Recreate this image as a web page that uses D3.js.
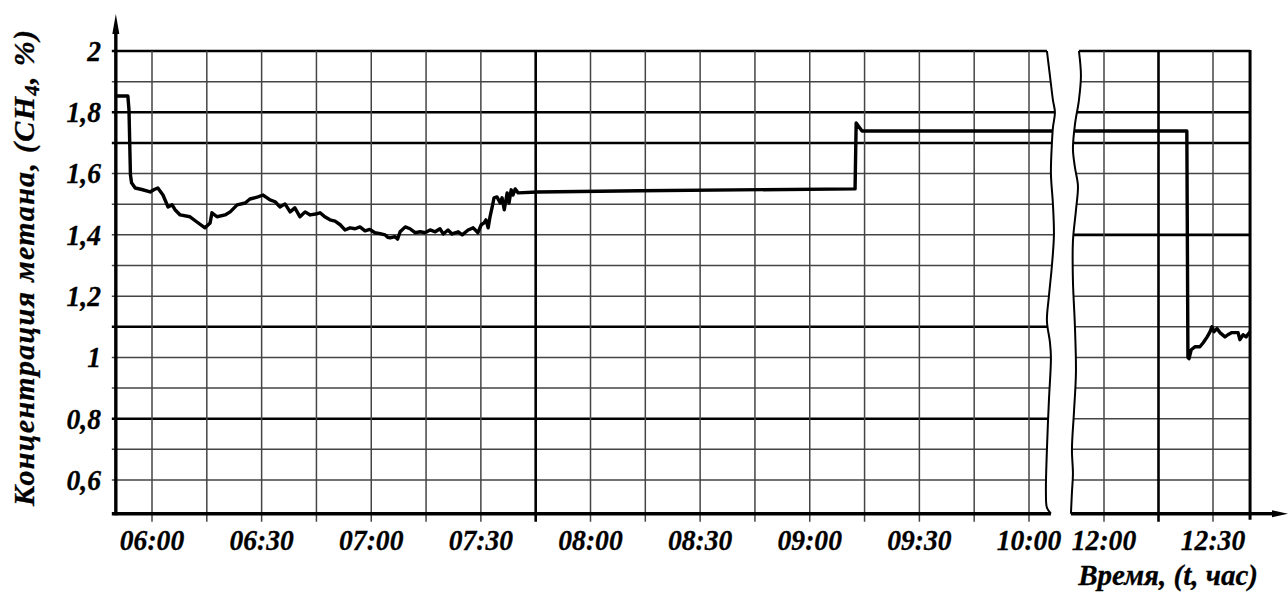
<!DOCTYPE html>
<meta charset="utf-8">
<style>
  body { margin: 0; background: #fff; }
  svg { display: block; background: #fff; }
  .lbl { font: italic bold 30px "Liberation Serif", "Times New Roman", serif; fill: #000; stroke: #000; stroke-width: 0.3; }
  .grid { stroke: #444; stroke-width: 1.5; }
  .grid.bold { stroke: #000; stroke-width: 2.6; }
  .series { fill: none; stroke: #000; stroke-width: 3.4; stroke-linejoin: round; }
  .axis { stroke: #000; stroke-width: 3.4; }
  .brk { fill: none; stroke: #000; stroke-width: 2; }
</style>
<body></body>
<script src="https://cdn.jsdelivr.net/npm/d3@7"></script>
<script>
  const W = 1288, H = 594;

  // value axis (CH4, %)
  const yTicks = [2, 1.8, 1.6, 1.4, 1.2, 1, 0.8, 0.6];
  const yGrid = [2, 1.9, 1.8, 1.7, 1.6, 1.5, 1.4, 1.3, 1.2, 1.1, 1, 0.9, 0.8, 0.7, 0.6];
  const yBoldLeft = [2, 1.8, 1.7, 1.1, 0.8];
  const yBoldRight = [2, 1.8, 1.7, 1.4];
  const yMin = 0.49;

  // time axis, minutes after midnight; two panels with a break between them
  const leftRange = [350.1, 606];      // 05:50 .. 10:06
  const rightRange = [710.9, 760.2];   // 11:51 .. 12:40
  const leftGrid = [360, 375, 390, 405, 420, 435, 450, 465, 480, 495, 510, 525, 540, 555, 570, 585, 600];
  const leftBold = [465];
  const leftLabels = ['06:00', '06:30', '07:00', '07:30', '08:00', '08:30', '09:00', '09:30', '10:00'];
  const rightGrid = [720, 735, 750];
  const rightBold = [735];
  const rightLabels = ['12:00', '12:30'];

  // [time (min), CH4 %]
  const leftSeries = [
    [350.1,1.853],[353.4,1.853],[353.7,1.808],[354.1,1.596],[354.4,1.570],[355.4,1.553],[357.2,1.548],[359.5,1.540],
    [360.6,1.548],[361.6,1.553],[363.0,1.530],[364.4,1.491],[365.5,1.498],[366.3,1.482],[367.7,1.465],[370.4,1.459],
    [372.3,1.442],[374.5,1.423],[375.9,1.439],[376.4,1.472],[377.8,1.459],[380.0,1.465],[381.4,1.475],
    [383.3,1.498],[385.5,1.504],[386.8,1.517],[389.0,1.524],[390.4,1.530],[392.3,1.514],[393.7,1.508],
    [395.0,1.491],[396.4,1.501],[397.8,1.475],[399.1,1.488],[400.5,1.459],[401.9,1.475],[403.3,1.465],
    [405.2,1.469],[406.0,1.472],[407.4,1.458],[408.7,1.449],[410.1,1.445],[411.5,1.433],[412.8,1.416],[414.2,1.423],[415.6,1.420],
    [416.9,1.426],[418.3,1.413],[419.6,1.418],[421.0,1.407],[422.4,1.404],[423.8,1.400],[424.5,1.392],[425.2,1.390],[426.5,1.394],[427.2,1.386],[427.9,1.410],
    [429.3,1.426],[430.6,1.420],[432.0,1.407],[433.4,1.410],[434.7,1.407],[436.1,1.416],[437.5,1.410],
    [438.8,1.420],[439.7,1.403],[441.0,1.416],[442.1,1.403],[443.8,1.410],[444.9,1.400],[446.5,1.416],
    [447.9,1.423],[449.2,1.407],[450.1,1.433],[450.9,1.439],[451.4,1.449],[452.0,1.423],[452.5,1.459],
    [453.1,1.491],[453.6,1.521],[454.4,1.524],[455.3,1.504],[455.8,1.521],[456.4,1.482],[457.2,1.537],
    [457.7,1.504],[458.3,1.547],[458.8,1.530],[459.4,1.550],[460.2,1.537],[465.4,1.540],[493.6,1.544],
    [552.4,1.550],[552.7,1.765],[554.3,1.739],[612,1.739]
  ];
  const rightSeries = [
    [705,1.739],[742.8,1.739],[743.1,1.0],[743.4,0.996],[744.0,1.025],[745.1,1.035],[746.4,1.035],
    [747.3,1.048],[748.4,1.067],[749.2,1.084],[749.7,1.100],[750.3,1.084],[751.1,1.094],[751.9,1.081],
    [753.3,1.067],[754.1,1.074],[755.2,1.081],[756.9,1.081],[757.4,1.058],[758.3,1.074],[759.1,1.067],
    [760.2,1.084]
  ];

  // break outlines: [value, horizontal wobble in px]
  const leftBreak = [[2,-4],[1.92,-1],[1.84,2],[1.8,4],[1.75,2],[1.7,1],[1.6,0],[1.5,2],[1.4,3],[1.3,1],
    [1.2,-2],[1.12,-4],[1.05,-1],[1,0],[0.86,-2],[0.7,-4],[0.56,-5],[0.51,-4],[0.49,0]];
  const rightBreak = [[2,8],[1.92,10],[1.84,8],[1.76,4],[1.68,2],[1.62,4],[1.56,7],[1.48,5],[1.38,2],[1.25,2],
    [1.1,4],[0.95,5],[0.82,3],[0.7,1],[0.62,2],[0.56,1],[0.49,0]];

  const y = d3.scaleLinear().domain([0.6, 2]).range([480, 51]);
  const xL = d3.scaleLinear().domain([360, 600]).range([152, 1029]);
  const xR = d3.scaleLinear().domain([720, 750]).range([1104, 1213]);

  const fmt = d => String(d).replace('.', ',');
  const toMin = s => +s.slice(0, 2) * 60 + +s.slice(3);
  const squeeze = 0.92;

  const svg = d3.select('body').append('svg').attr('width', W).attr('height', H);
  const defs = svg.append('defs');

  const x0 = xL(leftRange[0]);
  const lEdge = xL(leftRange[1]);
  const rEdge = xR(rightRange[0]);
  const x1 = xR(rightRange[1]);

  const brkLine = (edge) => d3.line().x(d => edge + d[1]).y(d => y(d[0])).curve(d3.curveCatmullRom);
  const lPts = leftBreak.map(d => [lEdge + d[1], y(d[0])]);
  const rPts = rightBreak.map(d => [rEdge + d[1], y(d[0])]);

  const curveStr = brkLine(lEdge)(leftBreak);
  const rCurveStr = brkLine(rEdge)(rightBreak);

  defs.append('clipPath').attr('id', 'clipL').append('path')
    .attr('d', `M0,0L${lPts[0][0]},0L${lPts[0][0]},${lPts[0][1]}` + curveStr.replace(/^M[^CL]*/, 'L' + lPts[0].join(',')) +
      `L${lPts[lPts.length - 1][0]},${H}L0,${H}Z`);
  defs.append('clipPath').attr('id', 'clipR').append('path')
    .attr('d', `M${W},0L${rPts[0][0]},0L${rPts[0][0]},${rPts[0][1]}` + rCurveStr.replace(/^M[^CL]*/, 'L' + rPts[0].join(',')) +
      `L${rPts[rPts.length - 1][0]},${H}L${W},${H}Z`);

  function panel(clip, xs, grid, bold, yBold, series, xLeft, xRight, labels) {
    const g = svg.append('g').attr('clip-path', `url(#${clip})`);
    // horizontal grid
    g.selectAll('line.h').data(yGrid).join('line')
      .attr('class', d => 'h grid' + (yBold.includes(d) ? ' bold' : ''))
      .attr('x1', xLeft).attr('x2', xRight)
      .attr('y1', d => y(d)).attr('y2', d => y(d));
    // vertical grid + ticks below axis
    g.selectAll('line.v').data(grid).join('line')
      .attr('class', d => 'v grid' + (bold.includes(d) ? ' bold' : ''))
      .attr('x1', d => xs(d)).attr('x2', d => xs(d))
      .attr('y1', y(2)).attr('y2', y(yMin) + 8);
    // series
    g.append('path').datum(series).attr('class', 'series')
      .attr('d', d3.line().x(d => xs(d[0])).y(d => y(d[1])));
    // bottom axis
    g.append('line').attr('class', 'axis')
      .attr('x1', xLeft).attr('x2', xRight)
      .attr('y1', y(yMin)).attr('y2', y(yMin));
    // labels
    svg.selectAll(null).data(labels).join('text')
      .attr('class', 'lbl').attr('text-anchor', 'middle')
      .attr('transform', d => `translate(${xs(toMin(d))},550) scale(${squeeze},1)`)
      .text(d => d);
  }

  panel('clipL', xL, leftGrid, leftBold, yBoldLeft, leftSeries, x0 - 4, lEdge + 15, leftLabels);
  panel('clipR', xR, rightGrid, rightBold, yBoldRight, rightSeries, rEdge - 5, x1, rightLabels);

  // right border of the right panel
  svg.append('line').attr('class', 'axis').style('stroke-width', 3)
    .attr('x1', x1).attr('x2', x1).attr('y1', y(2) - 1).attr('y2', y(yMin) + 6);

  // x axis continuation with arrow
  svg.append('line').attr('class', 'axis')
    .attr('x1', x1).attr('x2', 1276).attr('y1', y(yMin)).attr('y2', y(yMin));
  svg.append('path').attr('fill', '#000')
    .attr('d', `M1288,${y(yMin)}L1272,${y(yMin) - 3.5}L1272,${y(yMin) + 3.5}Z`);

  // break outlines
  svg.append('path').attr('class', 'brk').attr('d', curveStr);
  svg.append('path').attr('class', 'brk').attr('d', rCurveStr);

  // y axis with arrow
  svg.append('line').attr('class', 'axis')
    .attr('x1', x0).attr('x2', x0).attr('y1', y(yMin) + 1.5).attr('y2', 30);
  svg.append('path').attr('fill', '#000')
    .attr('d', `M${x0},14L${x0 - 3.5},34L${x0 + 3.5},34Z`);

  // y tick labels
  svg.selectAll('text.yl').data(yTicks).join('text')
    .attr('class', 'lbl yl').attr('text-anchor', 'end')
    .attr('transform', d => `translate(101,${y(d)}) scale(${squeeze},1)`)
    .attr('dy', '0.33em')
    .text(fmt);

  // axis titles
  const yt = svg.append('text').attr('class', 'lbl')
    .attr('text-anchor', 'middle')
    .attr('transform', 'translate(34,268) rotate(-90)')
    .attr('textLength', 476).attr('lengthAdjust', 'spacing');
  yt.append('tspan').text('Концентрация  метана, (CH');
  yt.append('tspan').attr('font-size', 21).attr('baseline-shift', '-5').text('4');
  yt.append('tspan').text(', %)');

  svg.append('text').attr('class', 'lbl').attr('text-anchor', 'end')
    .attr('x', 1258).attr('y', 585).style('font-size', '29px').text('Время, (t, час)');
</script>
